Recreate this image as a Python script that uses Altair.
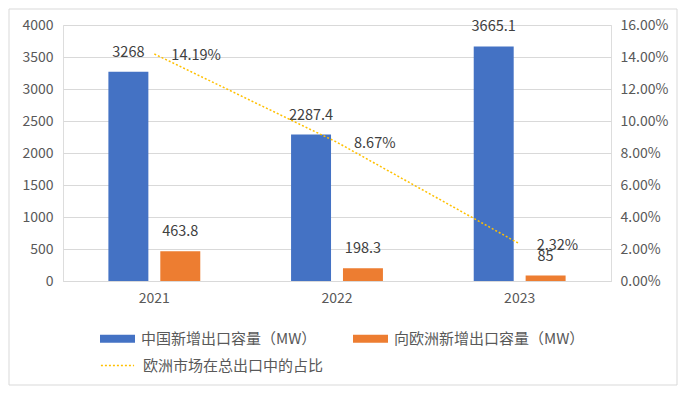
import altair as alt
import pandas as pd

years = ["2021", "2022", "2023"]
china_export = [3268, 2287.4, 3665.1]
europe_export = [463.8, 198.3, 85]
europe_share = [0.1419, 0.0867, 0.0232]

s1 = "中国新增出口容量（MW）"
s2 = "向欧洲新增出口容量（MW）"
s3 = "欧洲市场在总出口中的占比"

bars_df = pd.DataFrame({
    "year": years * 2,
    "series": [s1] * 3 + [s2] * 3,
    "value": china_export + europe_export,
})
line_df = pd.DataFrame({"year": years, "share": europe_share, "name": [s3] * 3})

FONT = "Noto Sans CJK SC"
AX = "#595959"

x_enc = alt.X("year:N", title=None,
              scale=alt.Scale(paddingInner=0.497, paddingOuter=0.2485),
              axis=alt.Axis(labelAngle=0, ticks=False, domainColor="#d9d9d9", domain=True, grid=False,
                            labelPadding=10, labelFontSize=14, labelColor=AX,
                            labelFont=FONT))

xoff = alt.XOffset("series:N", sort=[s1, s2],
                   scale=alt.Scale(domain=[s1, s2], paddingInner=0.23, paddingOuter=0))

y_left = alt.Y("value:Q", title=None,
               scale=alt.Scale(domain=[0, 4000]),
               axis=alt.Axis(values=list(range(0, 4001, 500)), format="d", ticks=False,
                             domainColor="transparent", domainWidth=0,
                             gridColor="#d9d9d9", labelPadding=10, labelFontSize=14,
                             labelColor=AX, labelFont=FONT))

bar_path = "M-1,-0.23L1,-0.23L1,0.23L-1,0.23Z"

bars = alt.Chart(bars_df).mark_bar().encode(
    x=x_enc,
    xOffset=xoff,
    y=y_left,
    color=alt.Color("series:N", sort=[s1, s2],
                    scale=alt.Scale(domain=[s1, s2], range=["#4472C4", "#ED7D31"]),
                    legend=alt.Legend(title=None, orient="none", legendX=37, legendY=296,
                                      columns=2, columnPadding=36, symbolType=bar_path,
                                      symbolSize=1225, symbolOffset=0, labelLimit=0,
                                      labelFontSize=15, labelColor=AX, labelFont=FONT,
                                      labelOffset=6, symbolStrokeWidth=0)),
)

bar_text = alt.Chart(bars_df).mark_text(baseline="middle", dy=-19, fontSize=14.5,
                                        color="#404040", font=FONT).encode(
    x=x_enc,
    xOffset=xoff,
    y=y_left,
    text=alt.Text("value:Q"),
)

y_right = alt.Y("share:Q", title=None,
                scale=alt.Scale(domain=[0, 0.16]),
                axis=alt.Axis(orient="right", format=".2%", values=[i / 100 for i in range(0, 17, 2)],
                              ticks=False, domainColor="transparent", domainWidth=0,
                              grid=False, labelPadding=9,
                              labelFontSize=14, labelColor=AX, labelFont=FONT))

line = alt.Chart(line_df).mark_line(strokeDash=[2, 2], strokeWidth=1.5).encode(
    x=x_enc,
    y=y_right,
    color=alt.Color("name:N", scale=alt.Scale(domain=[s3], range=["#FFC000"]),
                    legend=alt.Legend(title=None, orient="none", legendX=37, legendY=323,
                                      symbolType="stroke", symbolDash=[2, 2], labelLimit=0,
                                      symbolStrokeWidth=1.5, symbolSize=1100,
                                      labelFontSize=15, labelColor=AX, labelFont=FONT,
                                      labelOffset=8)),
)

line_text = alt.Chart(line_df).mark_text(align="left", baseline="middle", dx=17, dy=2,
                                         fontSize=14.5, color="#404040", font=FONT).encode(
    x=x_enc,
    y=y_right,
    text=alt.Text("share:Q", format=".2%"),
)

frame = alt.Chart(pd.DataFrame({"k": [0]})).mark_rect(
    fill="transparent", stroke="#d9d9d9", strokeWidth=1
).encode(x=alt.value(-54), x2=alt.value(614), y=alt.value(-16), y2=alt.value(360))

chart = alt.layer(
    frame,
    alt.layer(bars, bar_text),
    alt.layer(line, line_text),
).resolve_scale(y="independent", color="independent").properties(
    width=548, height=256,
    autosize=alt.AutoSizeParams(type="none"),
    padding={"left": 55, "top": 17, "right": 68, "bottom": 106},
).configure_view(stroke=None).configure(background="white")

chart.save("out.html", embed_options={"renderer": "svg", "actions": False})
